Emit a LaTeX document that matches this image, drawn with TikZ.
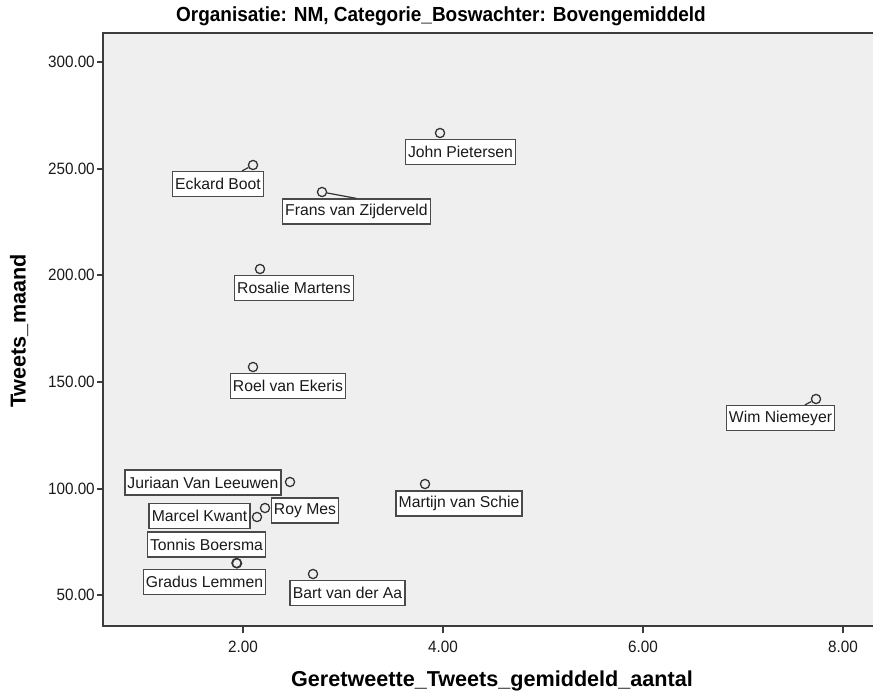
\documentclass[tikz,border=0pt]{standalone}
\usepackage{fontspec}
\setmainfont{Liberation Sans}
\newfontfamily\narrowfont[FakeStretch=0.93]{Liberation Sans}
\definecolor{plotbg}{HTML}{EFEFEF}
\definecolor{framecol}{HTML}{3C3C3C}
\definecolor{boxcol}{HTML}{4A4A4A}
\definecolor{dotcol}{HTML}{333333}
\definecolor{txtcol}{HTML}{1A1A1A}
\tikzset{
  lbl/.style={draw=boxcol, line width=1.1pt, fill=white, text=txtcol,
    font=\fontsize{11.8}{13}\selectfont, inner xsep=2pt, inner ysep=0pt,
    minimum height=18.5pt},
  dot/.style={circle, draw=dotcol, line width=0.95pt, minimum size=6.9pt, inner sep=0pt},
  leader/.style={draw=dotcol, line width=0.9pt},
  tick/.style={draw=framecol, line width=1.3pt},
  ticklbl/.style={font=\narrowfont\fontsize{12.3}{14}\selectfont, text=txtcol, inner sep=0pt},
  axtitle/.style={font=\bfseries\fontsize{16.2}{18}\selectfont, text=black, inner sep=0pt}
}
\begin{document}
\begin{tikzpicture}[x=0.75pt,y=-0.75pt]
\useasboundingbox (0,0) rectangle (873,695);
\fill[white] (0,0) rectangle (873,695);
% plot area
\fill[plotbg] (103,33) rectangle (875,626);
\draw[framecol, line width=1.4pt] (875,33) -- (103,33) -- (103,626) -- (875,626);
% title
\node[font=\narrowfont\bfseries\fontsize{15.3}{17}\selectfont, inner sep=0pt] (title) at (441,16)
  {Organisatie: NM, Categorie\_Boswachter: Bovengemiddeld};
% y axis ticks and labels
\foreach \v/\yy in {300.00/62, 250.00/169, 200.00/275, 150.00/382, 100.00/489, 50.00/595}{
  \draw[tick] (97,\yy) -- (103,\yy);
  \node[ticklbl, anchor=east] at (95,\yy) {\v};
}
% x axis ticks and labels
\foreach \v/\xx in {2.00/243, 4.00/443, 6.00/643, 8.00/843}{
  \draw[tick] (\xx,626) -- (\xx,633);
  \node[ticklbl] at (\xx,647) {\v};
}
% axis titles
\node[axtitle, rotate=90] (ytitle) at (19,331) {Tweets\_maand};
\node[axtitle] (xtitle) at (492,681) {Geretweette\_Tweets\_gemiddeld\_aantal};
% label boxes
\node[lbl] (jpL) at (460.5,152) {John Pietersen};
\node[lbl] (ebL) at (218,184) {Eckard Boot};
\node[lbl] (fzL) at (356.5,211.5) {Frans van Zijderveld};
\node[lbl] (rmL) at (294,288) {Rosalie Martens};
\node[lbl] (reL) at (288,386) {Roel van Ekeris};
\node[lbl] (wnL) at (780.5,418) {Wim Niemeyer};
\node[lbl] (msL) at (459,503.5) {Martijn van Schie};
\node[lbl] (jlL) at (203,482.5) {Juriaan Van Leeuwen};
\node[lbl] (ryL) at (305,510.5) {Roy Mes};
\node[lbl] (mkL) at (199.5,516) {Marcel Kwant};
\node[lbl] (tbL) at (206.5,544.5) {Tonnis Boersma};
\node[lbl] (glL) at (204.5,582) {Gradus Lemmen};
\node[lbl] (baL) at (347.5,593) {Bart van der Aa};
% data points
\node[dot] (jp) at (440,133) {};
\node[dot] (eb) at (253,165) {};
\node[dot] (fz) at (322,192) {};
\node[dot] (rm) at (260,269) {};
\node[dot] (re) at (253,367) {};
\node[dot] (wn) at (816,399) {};
\node[dot] (ms) at (425,484) {};
\node[dot] (jl) at (290,482) {};
\node[dot] (ry) at (265,508) {};
\node[dot] (mk) at (257,517) {};
\node[dot] (tb) at (236.5,563) {};
\node[dot] (gl) at (237,563.3) {};
\node[dot] (ba) at (313,574) {};
% leader lines for displaced labels
\draw[leader] (eb) -- (ebL);
\draw[leader] (fz) -- (fzL.north);
\draw[leader] (wn) -- (wnL);
\end{tikzpicture}
\end{document}
